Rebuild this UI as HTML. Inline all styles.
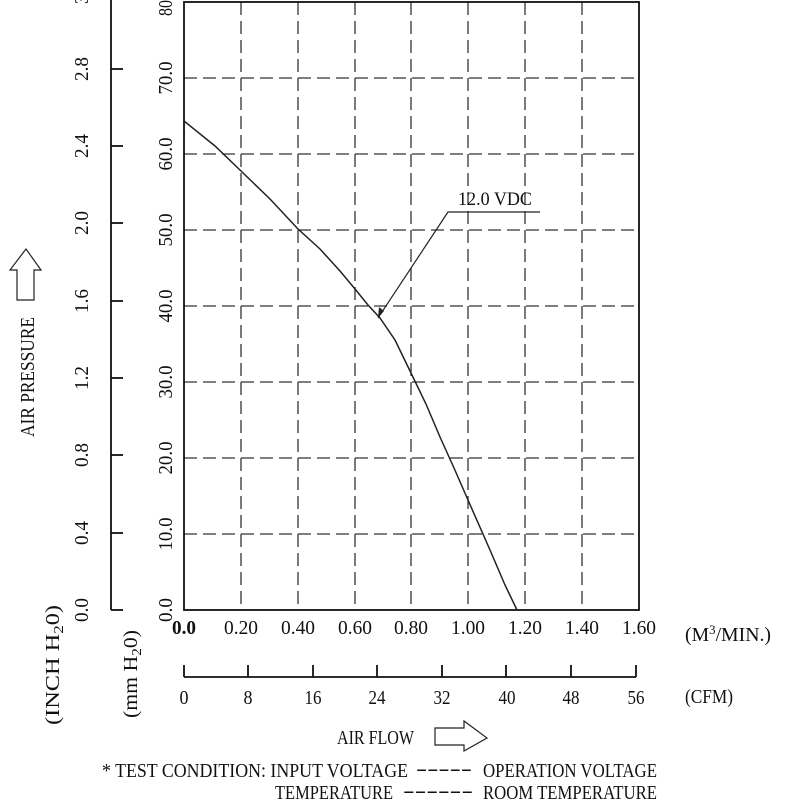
<!DOCTYPE html>
<html><head><meta charset="utf-8"><style>
html,body{margin:0;padding:0;background:#fff;}
svg{display:block;}
text{font-family:"Liberation Serif",serif;fill:#111;}
</style></head><body>
<svg width="800" height="800" viewBox="0 0 800 800" xmlns="http://www.w3.org/2000/svg" xml:space="preserve">
<g stroke="#333" stroke-width="1.3" stroke-dasharray="13,6" fill="none">
<line x1="241" y1="2" x2="241" y2="610"/><line x1="298" y1="2" x2="298" y2="610"/>
<line x1="355" y1="2" x2="355" y2="610"/><line x1="411" y1="2" x2="411" y2="610"/>
<line x1="468" y1="2" x2="468" y2="610"/><line x1="525" y1="2" x2="525" y2="610"/>
<line x1="582" y1="2" x2="582" y2="610"/>
<line x1="184" y1="534" x2="639" y2="534"/><line x1="184" y1="458" x2="639" y2="458"/>
<line x1="184" y1="382" x2="639" y2="382"/><line x1="184" y1="306" x2="639" y2="306"/>
<line x1="184" y1="230" x2="639" y2="230"/><line x1="184" y1="154" x2="639" y2="154"/>
<line x1="184" y1="78" x2="639" y2="78"/>
</g>
<rect x="184" y="2" width="455" height="608" fill="none" stroke="#111" stroke-width="1.8"/>
<g stroke="#111" stroke-width="1.8" fill="none">
<line x1="111" y1="0" x2="111" y2="610"/><line x1="111" y1="610" x2="123" y2="610"/>
<line x1="111" y1="533" x2="123" y2="533"/><line x1="111" y1="455" x2="123" y2="455"/>
<line x1="111" y1="378" x2="123" y2="378"/><line x1="111" y1="301" x2="123" y2="301"/>
<line x1="111" y1="223" x2="123" y2="223"/><line x1="111" y1="146" x2="123" y2="146"/>
<line x1="111" y1="69" x2="123" y2="69"/>
</g>
<polyline fill="none" stroke="#222" stroke-width="1.5" points="184,121 215,146 241,171 270,199 298,229 320,249 340,271 355,289 368,305 380,318 395,340 411,373 426,404 440,437 454,468 468,500 490,550 505,585 517,610"/>
<polyline fill="none" stroke="#222" stroke-width="1.2" points="378,318 448,212 540,212"/>
<path d="M378,318 l1,-11 l5,4 z" fill="#222"/>
<text x="458" y="205" font-size="19" textLength="74" lengthAdjust="spacingAndGlyphs">12.0 VDC</text>
<g font-size="20" text-anchor="middle" lengthAdjust="spacingAndGlyphs">
<text transform="translate(172,610) rotate(-90)" textLength="24" lengthAdjust="spacingAndGlyphs">0.0</text>
<text transform="translate(172,534) rotate(-90)" textLength="33" lengthAdjust="spacingAndGlyphs">10.0</text>
<text transform="translate(172,458) rotate(-90)" textLength="33" lengthAdjust="spacingAndGlyphs">20.0</text>
<text transform="translate(172,382) rotate(-90)" textLength="33" lengthAdjust="spacingAndGlyphs">30.0</text>
<text transform="translate(172,306) rotate(-90)" textLength="33" lengthAdjust="spacingAndGlyphs">40.0</text>
<text transform="translate(172,230) rotate(-90)" textLength="33" lengthAdjust="spacingAndGlyphs">50.0</text>
<text transform="translate(172,154) rotate(-90)" textLength="33" lengthAdjust="spacingAndGlyphs">60.0</text>
<text transform="translate(172,78) rotate(-90)" textLength="33" lengthAdjust="spacingAndGlyphs">70.0</text>
<text transform="translate(172,8) rotate(-90)" textLength="16" lengthAdjust="spacingAndGlyphs">80</text>
<text transform="translate(88,610) rotate(-90)" textLength="24" lengthAdjust="spacingAndGlyphs">0.0</text>
<text transform="translate(88,533) rotate(-90)" textLength="24" lengthAdjust="spacingAndGlyphs">0.4</text>
<text transform="translate(88,455) rotate(-90)" textLength="24" lengthAdjust="spacingAndGlyphs">0.8</text>
<text transform="translate(88,378) rotate(-90)" textLength="24" lengthAdjust="spacingAndGlyphs">1.2</text>
<text transform="translate(88,301) rotate(-90)" textLength="24" lengthAdjust="spacingAndGlyphs">1.6</text>
<text transform="translate(88,223) rotate(-90)" textLength="24" lengthAdjust="spacingAndGlyphs">2.0</text>
<text transform="translate(88,146) rotate(-90)" textLength="24" lengthAdjust="spacingAndGlyphs">2.4</text>
<text transform="translate(88,69) rotate(-90)" textLength="24" lengthAdjust="spacingAndGlyphs">2.8</text>
<text transform="translate(88,-8) rotate(-90)" textLength="24" lengthAdjust="spacingAndGlyphs">3.2</text>
<text transform="translate(34,377) rotate(-90)" textLength="120" lengthAdjust="spacingAndGlyphs">AIR  PRESSURE</text>
<text transform="translate(59,665) rotate(-90)" textLength="120" lengthAdjust="spacingAndGlyphs">(INCH  H<tspan font-size="14" dy="4">2</tspan><tspan dy="-4">0)</tspan></text>
<text transform="translate(137,674) rotate(-90)" textLength="88" lengthAdjust="spacingAndGlyphs">(mm  H<tspan font-size="14" dy="4">2</tspan><tspan dy="-4">0)</tspan></text>
</g>
<path d="M17,300 V270 H10 L26,249 L41,270 H34 V300 Z" fill="#fff" stroke="#222" stroke-width="1.2"/>
<g font-size="20" text-anchor="middle">
<text x="184" y="634" font-weight="bold" textLength="24" lengthAdjust="spacingAndGlyphs">0.0</text>
<text x="241" y="634" textLength="34" lengthAdjust="spacingAndGlyphs">0.20</text>
<text x="298" y="634" textLength="34" lengthAdjust="spacingAndGlyphs">0.40</text>
<text x="355" y="634" textLength="34" lengthAdjust="spacingAndGlyphs">0.60</text>
<text x="411" y="634" textLength="34" lengthAdjust="spacingAndGlyphs">0.80</text>
<text x="468" y="634" textLength="34" lengthAdjust="spacingAndGlyphs">1.00</text>
<text x="525" y="634" textLength="34" lengthAdjust="spacingAndGlyphs">1.20</text>
<text x="582" y="634" textLength="34" lengthAdjust="spacingAndGlyphs">1.40</text>
<text x="639" y="634" textLength="34" lengthAdjust="spacingAndGlyphs">1.60</text>
<text x="184" y="704" textLength="9" lengthAdjust="spacingAndGlyphs">0</text>
<text x="248" y="704" textLength="9" lengthAdjust="spacingAndGlyphs">8</text>
<text x="313" y="704" textLength="17" lengthAdjust="spacingAndGlyphs">16</text>
<text x="377" y="704" textLength="17" lengthAdjust="spacingAndGlyphs">24</text>
<text x="442" y="704" textLength="17" lengthAdjust="spacingAndGlyphs">32</text>
<text x="507" y="704" textLength="17" lengthAdjust="spacingAndGlyphs">40</text>
<text x="571" y="704" textLength="17" lengthAdjust="spacingAndGlyphs">48</text>
<text x="636" y="704" textLength="17" lengthAdjust="spacingAndGlyphs">56</text>
</g>
<text x="685" y="641" font-size="20" textLength="86" lengthAdjust="spacingAndGlyphs">(M<tspan font-size="13" dy="-7">3</tspan><tspan dy="7">/MIN.)</tspan></text>
<text x="685" y="703" font-size="20" textLength="48" lengthAdjust="spacingAndGlyphs">(CFM)</text>
<g stroke="#111" stroke-width="1.8" fill="none">
<line x1="184" y1="677" x2="636" y2="677"/>
<line x1="184" y1="665" x2="184" y2="677"/><line x1="248" y1="665" x2="248" y2="677"/>
<line x1="313" y1="665" x2="313" y2="677"/><line x1="377" y1="665" x2="377" y2="677"/>
<line x1="442" y1="665" x2="442" y2="677"/><line x1="506" y1="665" x2="506" y2="677"/>
<line x1="571" y1="665" x2="571" y2="677"/><line x1="636" y1="665" x2="636" y2="677"/>
</g>
<text x="337" y="744" font-size="20" textLength="77" lengthAdjust="spacingAndGlyphs">AIR  FLOW</text>
<path d="M435,728 H464 V721 L487,738 L464,751 V745 H435 Z" fill="#fff" stroke="#222" stroke-width="1.2"/>
<text x="102" y="777" font-size="20" textLength="306" lengthAdjust="spacingAndGlyphs">*  TEST  CONDITION:  INPUT  VOLTAGE</text>
<text x="416" y="775" font-size="20" textLength="56" lengthAdjust="spacingAndGlyphs">-----</text>
<text x="483" y="777" font-size="20" textLength="174" lengthAdjust="spacingAndGlyphs">OPERATION  VOLTAGE</text>
<text x="275" y="799" font-size="20" textLength="118" lengthAdjust="spacingAndGlyphs">TEMPERATURE</text>
<text x="403" y="797" font-size="20" textLength="70" lengthAdjust="spacingAndGlyphs">------</text>
<text x="483" y="799" font-size="20" textLength="174" lengthAdjust="spacingAndGlyphs">ROOM  TEMPERATURE</text>
</svg>
</body></html>
